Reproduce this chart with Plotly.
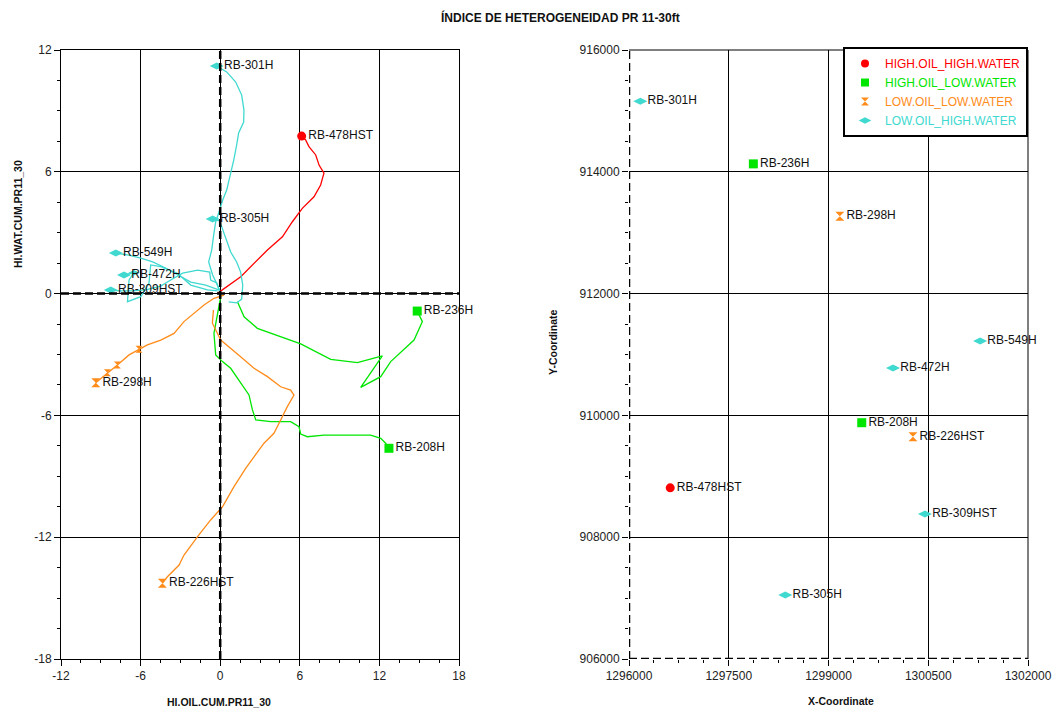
import plotly.graph_objects as go

W, H = 1059, 714

# ---------------- categories ----------------
categories = ["HIGH.OIL_HIGH.WATER", "HIGH.OIL_LOW.WATER", "LOW.OIL_LOW.WATER", "LOW.OIL_HIGH.WATER"]
cat_colors = ["#FF0000", "#00E600", "#FF8C1A", "#40D9D0"]
cat_symbols = ["circle", "square", "hourglass", "diamond-wide"]
cat_sizes = [9, 9, 9, 10]

wells = ["RB-478HST", "RB-236H", "RB-208H", "RB-298H", "RB-226HST",
         "RB-301H", "RB-305H", "RB-549H", "RB-472H", "RB-309HST"]
well_cat = [0, 1, 1, 2, 2, 3, 3, 3, 3, 3]

# ---------------- right chart: well coordinates ----------------
x_coord = [1296620, 1297870, 1299500, 1299170, 1300270,
           1296170, 1298350, 1301280, 1299970, 1300450]
y_coord = [908810, 914130, 909880, 913270, 909650,
           915160, 907050, 911220, 910780, 908380]

# ---------------- left chart: cumulative HI trajectories ----------------
oil_478 = [-0.21, 1.55, 3.56, 4.69, 5.44, 6.19, 7.07, 7.57, 7.82, 7.45, 7.20, 6.69, 6.44, 6.14]
wat_478 = [0.01, 0.83, 2.15, 2.80, 3.54, 4.20, 4.77, 5.35, 5.93, 6.33, 6.83, 7.24, 7.57, 7.76]

oil_236 = [1.30, 1.80, 2.80, 4.56, 6.07, 8.33, 10.34, 12.22, 10.59, 12.10, 12.85, 14.61, 15.24, 14.85]
wat_236 = [-0.40, -1.14, -1.71, -2.12, -2.48, -3.24, -3.40, -3.07, -4.62, -4.09, -3.35, -2.29, -1.38, -0.86]

oil_208 = [0.04, -0.47, -0.34, 0.17, 0.79, 1.54, 2.17, 2.43, 2.68, 3.81, 5.31, 5.94, 6.07, 6.57,
           7.82, 9.59, 11.34, 12.10, 12.47, 12.72]
wat_208 = [-0.15, -1.96, -3.02, -3.35, -3.68, -4.42, -4.99, -5.73, -6.22, -6.31, -6.31, -6.56, -6.92, -7.05,
           -6.97, -6.97, -6.97, -7.13, -7.37, -7.62]

oil_298 = [0.29, -0.47, -1.22, -1.97, -2.73, -3.48, -4.48, -5.49, -6.12, -6.87, -7.75, -8.50, -9.38]
wat_298 = [-0.07, -0.23, -0.56, -0.97, -1.38, -1.96, -2.29, -2.53, -2.74, -3.02, -3.52, -3.90, -4.39]

oil_226 = [-0.51, -0.59, 0.04, 0.79, 1.54, 2.55, 3.56, 4.56, 5.31, 5.56, 5.06, 4.56, 4.05, 3.30,
           2.55, 1.92, 1.04, 0.17, -0.72, -1.72, -2.73, -3.10, -3.98, -4.36]
wat_226 = [-0.81, -1.46, -2.29, -2.69, -3.11, -3.68, -4.09, -4.59, -4.75, -5.00, -5.57, -6.23, -6.88, -7.37,
           -8.03, -8.61, -9.51, -10.50, -11.15, -11.98, -12.88, -13.37, -13.95, -14.27]

oil_301 = [-0.04, -0.57, -0.87, -0.64, -0.49, -0.34, -0.04, 0.19, 0.49, 0.72, 1.02, 1.24, 1.39, 1.77,
           1.79, 1.62, 1.17, 0.49, -0.26]
wat_301 = [0.18, 0.92, 1.56, 2.15, 2.89, 3.53, 4.12, 4.61, 5.10, 5.70, 6.58, 7.32, 7.91, 8.45,
           9.04, 9.78, 10.42, 10.92, 11.21]

oil_305 = [0.64, 1.24, 1.62, 1.70, 1.54, 1.24, 0.79, 0.49, 0.19, -0.04, -0.57]
wat_305 = [-0.41, -0.46, -0.27, 0.42, 1.06, 1.56, 2.05, 2.64, 3.23, 3.58, 3.67]

oil_549 = [-0.11, -1.09, -2.22, -3.13, -4.11, -5.09, -5.99, -6.90, -7.87]
wat_549 = [0.18, 0.42, 0.57, 0.92, 1.26, 1.56, 1.75, 1.90, 2.00]

oil_472 = [-0.19, -0.96, -2.22, -3.23, -4.48, -5.24, -5.37, -5.99, -6.99, -6.87, -6.50, -7.25]
wat_472 = [0.13, 0.18, 0.42, 1.00, 1.33, 1.41, 0.51, -0.15, -0.40, 0.67, 1.03, 0.92]

oil_309 = [-0.04, -0.26, -0.72, -0.79, -1.70, -2.83, -3.73, -4.48, -5.61, -6.74, -7.65, -8.25]
wat_309 = [0.08, 0.52, 0.67, 1.06, 1.16, 1.01, 0.67, 0.37, 0.18, 0.13, 0.13, 0.18]

traj_oil = [oil_478, oil_236, oil_208, oil_298, oil_226, oil_301, oil_305, oil_549, oil_472, oil_309]
traj_wat = [wat_478, wat_236, wat_208, wat_298, wat_226, wat_301, wat_305, wat_549, wat_472, wat_309]
# intermediate points that carry a marker (index into each trajectory)
mid_marks = [[], [], [], [8, 10, 11], [], [], [], [], [10], []]

# axis ticks
x1_ticks = [-12, -6, 0, 6, 12, 18]
y1_ticks = [-18, -12, -6, 0, 6, 12]
x2_ticks = [1296000, 1297500, 1299000, 1300500, 1302000]
y2_ticks = [906000, 908000, 910000, 912000, 914000, 916000]

FONT = "Liberation Sans, Arial, sans-serif"
BOLD = "Liberation Sans Narrow, Arial Narrow, Liberation Sans, sans-serif"

fig = go.Figure()

# left chart trajectories
for i, w in enumerate(wells):
    c = well_cat[i]
    xs, ys = traj_oil[i], traj_wat[i]
    fig.add_trace(go.Scatter(x=xs, y=ys, mode="lines", xaxis="x", yaxis="y",
                             line=dict(color=cat_colors[c], width=1.3),
                             showlegend=False, hoverinfo="skip"))
    if mid_marks[i]:
        fig.add_trace(go.Scatter(x=[xs[k] for k in mid_marks[i]], y=[ys[k] for k in mid_marks[i]],
                                 mode="markers", xaxis="x", yaxis="y",
                                 marker=dict(symbol=cat_symbols[c], size=cat_sizes[c] - 2,
                                             color=cat_colors[c], line=dict(width=0)),
                                 showlegend=False, hoverinfo="skip"))
    fig.add_trace(go.Scatter(x=[xs[-1]], y=[ys[-1]], mode="markers+text", xaxis="x", yaxis="y",
                             text=[w], textposition="middle right", cliponaxis=False,
                             textfont=dict(family=FONT, size=12, color="#111"),
                             marker=dict(symbol=cat_symbols[c], size=cat_sizes[c],
                                         color=cat_colors[c], line=dict(width=0)),
                             showlegend=False))

# right chart points
for i, w in enumerate(wells):
    c = well_cat[i]
    fig.add_trace(go.Scatter(x=[x_coord[i]], y=[y_coord[i]], mode="markers+text",
                             xaxis="x2", yaxis="y2", text=[w], textposition="middle right",
                             cliponaxis=False,
                             textfont=dict(family=FONT, size=12, color="#111"),
                             marker=dict(symbol=cat_symbols[c], size=cat_sizes[c],
                                         color=cat_colors[c], line=dict(width=0)),
                             showlegend=False))

# legend entries
for c, name in enumerate(categories):
    fig.add_trace(go.Scatter(x=[None], y=[None], mode="markers", xaxis="x2", yaxis="y2",
                             name=f"<span style='color:{cat_colors[c]}'>{name}</span>",
                             marker=dict(symbol=cat_symbols[c], size=cat_sizes[c] - 1,
                                         color=cat_colors[c]),
                             showlegend=True))

xd1 = [61 / W, 459 / W]
xd2 = [629 / W, 1028 / W]
yd = [(H - 659) / H, (H - 50) / H]

common = dict(showgrid=True, gridcolor="black", gridwidth=1, zeroline=False, automargin=False,
              ticks="outside", ticklen=6, tickcolor="black", tickwidth=1,
              tickfont=dict(family=FONT, size=12, color="#222"))

fig.update_layout(
    template="none",
    width=W, height=H,
    margin=dict(l=0, r=0, t=0, b=0, autoexpand=False),
    paper_bgcolor="white", plot_bgcolor="white",
    xaxis=dict(domain=xd1, range=[-12, 18], tickvals=x1_ticks, ticktext=[str(v) for v in x1_ticks],
               anchor="y", showline=True, linecolor="black", mirror=True,
               minor=dict(dtick=1.5, tick0=0, ticks="outside", ticklen=3, tickcolor="black", showgrid=False),
               **common),
    yaxis=dict(domain=yd, range=[-18, 12], tickvals=y1_ticks, ticktext=[str(v) for v in y1_ticks],
               anchor="x", showline=True, linecolor="black", mirror=True,
               minor=dict(dtick=1.5, tick0=0, ticks="outside", ticklen=3, tickcolor="black", showgrid=False),
               **common),
    xaxis2=dict(domain=xd2, range=[1296000, 1302000], tickvals=x2_ticks, ticktext=[str(v) for v in x2_ticks],
                anchor="y2", showline=False,
                minor=dict(dtick=375, tick0=1296000, ticks="outside", ticklen=3, tickcolor="black", showgrid=False),
                **common),
    yaxis2=dict(domain=yd, range=[906000, 916000], tickvals=y2_ticks, ticktext=[str(v) for v in y2_ticks],
                anchor="x2", showline=False,
                minor=dict(dtick=500, tick0=906000, ticks="outside", ticklen=3, tickcolor="black", showgrid=False),
                **common),
    legend=dict(x=843 / W, y=1 - 47 / H, xanchor="left", yanchor="top",
                bgcolor="white", bordercolor="black", borderwidth=2,
                font=dict(family=FONT, size=12), itemwidth=30, tracegroupgap=0),
    showlegend=True,
)

dash = dict(color="black", width=2.5, dash="8px,4px")
shapes = [
    dict(type="line", xref="x", yref="y domain", x0=0, x1=0, y0=0, y1=1, line=dash),
    dict(type="line", xref="x domain", yref="y", x0=0, x1=1, y0=0, y1=0, line=dash),
    dict(type="line", xref="x2", yref="y2 domain", x0=1296000, x1=1296000, y0=0, y1=1, line=dash),
    dict(type="line", xref="x2 domain", yref="y2", x0=0, x1=1, y0=906000, y1=906000, line=dash),
    dict(type="line", xref="x2 domain", yref="y2 domain", x0=0, x1=1, y0=1, y1=1,
         line=dict(color="black", width=1)),
    dict(type="line", xref="x2 domain", yref="y2 domain", x0=1, x1=1, y0=0, y1=1,
         line=dict(color="black", width=1)),
]
fig.update_layout(shapes=shapes)

anno_common = dict(xref="paper", yref="paper", showarrow=False, xanchor="center", yanchor="middle")
annos = [
    dict(text="<b>ÍNDICE DE HETEROGENEIDAD PR 11-30ft</b>", x=560 / W, y=1 - 17 / H,
         font=dict(family=BOLD, size=12, color="#111"), **anno_common),
    dict(text="<b>HI.OIL.CUM.PR11_30</b>", x=219 / W, y=1 - 702 / H,
         font=dict(family=BOLD, size=10.5, color="#111"), **anno_common),
    dict(text="<b>X-Coordinate</b>", x=841 / W, y=1 - 701 / H,
         font=dict(family=BOLD, size=10.5, color="#111"), **anno_common),
    dict(text="<b>HI.WAT.CUM.PR11_30</b>", x=18 / W, y=1 - 214 / H, textangle=-90,
         font=dict(family=BOLD, size=10.5, color="#111"), **anno_common),
    dict(text="<b>Y-Coordinate</b>", x=553 / W, y=1 - 343 / H, textangle=-90,
         font=dict(family=BOLD, size=10.5, color="#111"), **anno_common),
]
fig.update_layout(annotations=annos)

fig.write_html("out.html")
